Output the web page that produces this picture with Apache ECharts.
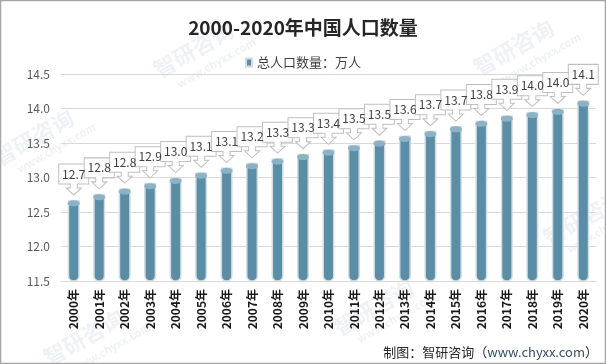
<!DOCTYPE html>
<html>
<head>
<meta charset="utf-8">
<script src="https://cdn.jsdelivr.net/npm/echarts@6/dist/echarts.min.js"></script>
<style>html,body{margin:0;padding:0;background:#fff;}#c{width:606px;height:364px;}</style>
</head>
<body>
<div id="c"></div>
<script>
const years = ['2000年','2001年','2002年','2003年','2004年','2005年','2006年','2007年','2008年','2009年','2010年','2011年','2012年','2013年','2014年','2015年','2016年','2017年','2018年','2019年','2020年'];
const population = [12.6743,12.7627,12.8453,12.9227,12.9988,13.0756,13.1448,13.2129,13.2802,13.3450,13.4091,13.4735,13.5404,13.6072,13.6782,13.7462,13.8271,13.9008,13.9538,14.0005,14.1178];
const seriesName = '总人口数量：万人';
const titleText = '2000-2020年中国人口数量';
const yMin = 11.5, yMax = 14.5, yStep = 0.5;

const chart = echarts.init(document.getElementById('c'), null, {renderer:'canvas'});
const font = '"Noto Sans CJK SC","Microsoft YaHei",sans-serif';
const callout = 'path://M0 0 L30 0 L30 20 L18.5 20 L18.5 24 L22.5 24 L15 31 L7.5 24 L11.5 24 L11.5 20 L0 20 Z';
const ellipse = 'path://M0 5 A5 5 0 1 1 10 5 A5 5 0 1 1 0 5 Z';
const wmColor = 'rgba(170,185,205,0.2)';
function wm(x, y, t, size) {
  return {type:'text', x:x, y:y, rotation:0.52, silent:true, z:0,
    style:{text:t, fill:wmColor, font:'bold '+size+'px '+font}};
}
chart.setOption({
  animation:false,
  textStyle:{fontFamily:font},
  title:{text:titleText, left:'center', top:13,
    textStyle:{fontSize:19, fontWeight:'bold', color:'#262626', fontFamily:font}},
  legend:{data:[seriesName], top:51, left:'center', icon:'rect', itemWidth:6, itemHeight:8,
    textStyle:{fontSize:13, color:'#404040'}},
  grid:{left:61, right:10, top:74, bottom:83, containLabel:false},
  xAxis:{type:'category', data:years,
    axisLine:{lineStyle:{color:'#d9d9d9'}}, axisTick:{show:false},
    axisLabel:{rotate:90, fontSize:12, fontWeight:'bold', color:'#1a1a1a', margin:8, interval:0}},
  yAxis:{type:'value', min:yMin, max:yMax, interval:yStep,
    axisLine:{show:false}, axisTick:{show:false},
    splitLine:{lineStyle:{color:'#d9d9d9'}},
    axisLabel:{fontSize:12, color:'#595959', margin:11, formatter:v=>v.toFixed(1)}},
  graphic:[
    wm(150,62,'智研咨询',22), wm(175,80,'www.chyxx.com',11),
    wm(470,60,'智研咨询',22), wm(500,75,'www.chyxx.com',11),
    wm(-10,150,'智研咨询',22), wm(15,165,'www.chyxx.com',11),
    wm(40,350,'智研咨询',22), wm(70,365,'www.chyxx.com',11),
    wm(330,320,'智研咨询',22), wm(355,335,'www.chyxx.com',11),
    wm(540,230,'智研咨询',22), wm(565,245,'www.chyxx.com',11),
    {type:'rect', shape:{x:0.5,y:0.5,width:605,height:363}, silent:true,
      style:{fill:'none', stroke:'#a6a6a6', lineWidth:1.5}},
    {type:'text', right:8, bottom:5, silent:true,
      style:{text:'{a|制图：智研咨询（}{b|www.chyxx.com}{a|）}',
        rich:{a:{fontSize:13, fill:'#262626', fontFamily:font}, b:{fontSize:13, fill:'#34506b', fontFamily:font}}}}
  ],
  series:[
    {name:seriesName, type:'bar', data:population, barWidth:12, z:2,
      itemStyle:{color:'#5a8ea6', borderColor:'#d3dce1', borderWidth:1.5, borderRadius:[0,0,5,5]}},
    {name:'top', type:'pictorialBar', data:population, symbol:ellipse, symbolPosition:'end',
      symbolSize:[12,6], symbolOffset:[0,0], z:3, legendHoverLink:false,
      itemStyle:{color:'#8db2c4', borderColor:'#d3dce1', borderWidth:1}},
    {name:'label', type:'scatter', data:population, symbol:callout, symbolSize:[30,31],
      symbolOffset:[0,-20.5], z:5,
      itemStyle:{color:'#ffffff', borderColor:'#bfbfbf', borderWidth:1, opacity:1},
      label:{show:true, position:'inside', offset:[0,-5.5], fontSize:12, color:'#404040',
        formatter:p=>p.value.toFixed(1)}}
  ]
});
</script>
</body>
</html>
